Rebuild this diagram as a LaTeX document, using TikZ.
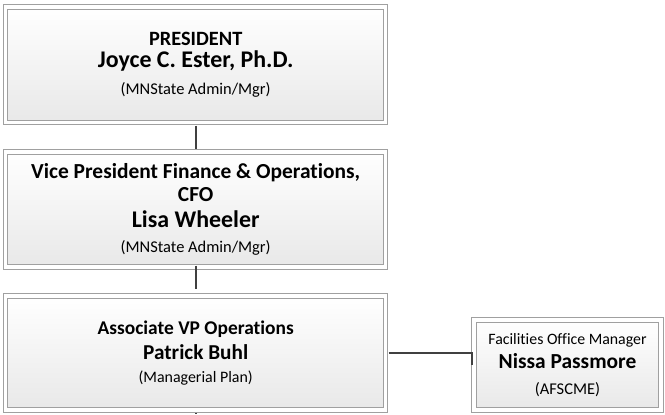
\documentclass[tikz,border=0pt]{standalone}
\usepackage{fontspec}
\setmainfont[Ligatures=NoCommon]{Carlito}
\definecolor{edgegray}{RGB}{160,160,160}
\definecolor{shadegray}{RGB}{232,232,232}
\definecolor{linkgray}{RGB}{64,64,64}
\newcommand{\headfont}{\fontsize{20.4}{22}\selectfont\bfseries}
\newcommand{\namefont}{\fontsize{24}{26}\selectfont\bfseries}
\newcommand{\planfont}{\fontsize{16.5}{20}\selectfont}
\begin{document}
\begin{tikzpicture}[x=1bp, y=-1bp,
  box/.style={rectangle, draw=edgegray, double=white, double distance=3.2bp, line width=1bp,
    top color=white, bottom color=shadegray, align=center, inner sep=0pt,
    font=\fontsize{16}{24}\selectfont},
  link/.style={draw=linkgray, line width=2bp}]
\useasboundingbox (0,0) rectangle (665,414);

\node [box, minimum width=379.6bp, minimum height=115.5bp] (pres) at (195.7,64.75)
  {{\headfont PRESIDENT}\\[-2bp] {\namefont Joyce C. Ester, Ph.D.}\\[3bp] {\planfont (MNState Admin/Mgr)}};
\node [box, minimum width=379.6bp, minimum height=115bp] (cfo) at (195.7,209.5)
  {{\fontsize{21.5}{24}\selectfont\bfseries Vice President Finance \& Operations,}\\[-0.7bp]
   {\fontsize{21.5}{24}\selectfont\bfseries CFO}\\[2bp]
   {\namefont Lisa Wheeler}\\[1.7bp] {\planfont (MNState Admin/Mgr)}};
\node [box, minimum width=379.6bp, minimum height=114bp] (avp) at (195.7,353)
  {{\fontsize{19.5}{22}\selectfont\bfseries Associate VP Operations}\\[1.7bp]
   {\fontsize{21.3}{24}\selectfont\bfseries Patrick Buhl}\\[-0.7bp] {\fontsize{16}{20}\selectfont (Managerial Plan)}};
\node [box, minimum width=187bp, minimum height=90bp] (fom) at (567.5,365)
  {{\fontsize{15.9}{20}\selectfont Facilities Office Manager}\\[0.3bp] {\fontsize{21.5}{24}\selectfont\bfseries Nissa Passmore}\\[1.7bp] {\planfont (AFSCME)}};
\coordinate (down) at (195.7,414);

\draw [link, shorten <=2.5bp, shorten >=2.5bp] (pres) -- (cfo);
\draw [link, shorten <=-2bp, shorten >=7bp] (cfo) -- (avp);
\draw [link, shorten <=2.5bp] (avp.east) -| ([xshift=-2bp]fom.west);
\draw [link, shorten <=2.5bp] (avp) -- (down);

\end{tikzpicture}
\end{document}
